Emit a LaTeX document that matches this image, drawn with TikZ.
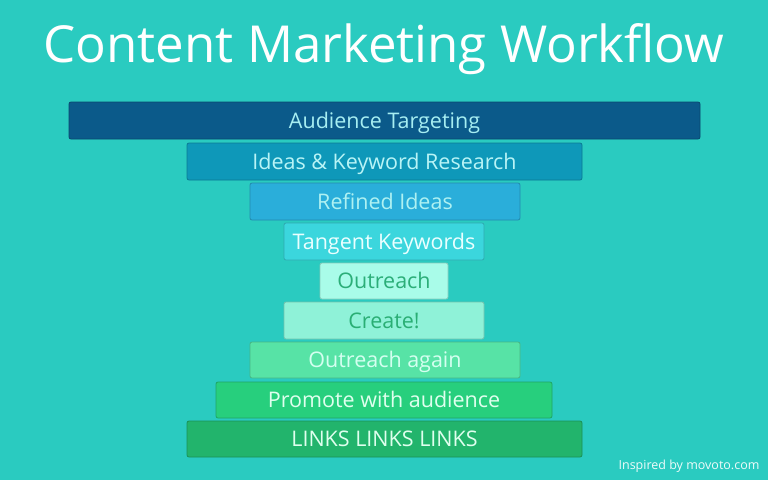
\documentclass[tikz,border=0pt]{standalone}
\usepackage{fontspec}
\setmainfont{Open Sans}
\definecolor{bg}{HTML}{2ACBC0}
\definecolor{c1}{HTML}{0B5A8A}\definecolor{t1}{HTML}{A6EEF2}
\definecolor{c2}{HTML}{0E98B9}\definecolor{t2}{HTML}{B8F4F6}
\definecolor{c3}{HTML}{2AAEDA}\definecolor{t3}{HTML}{AEF1F2}
\definecolor{c4}{HTML}{3BD6DD}\definecolor{t4}{HTML}{EAFFFF}
\definecolor{c5}{HTML}{A9FCE9}\definecolor{t5}{HTML}{2BAE78}
\definecolor{c6}{HTML}{8FF2D8}\definecolor{t6}{HTML}{2AAE74}
\definecolor{c7}{HTML}{57E3A6}\definecolor{t7}{HTML}{D4FFF0}
\definecolor{c8}{HTML}{27CF7D}\definecolor{t8}{HTML}{DFFFEE}
\definecolor{c9}{HTML}{22B46C}\definecolor{t9}{HTML}{DFFFEE}
\tikzset{
  layer/.style={draw=#1!80!black, fill=#1, rounded corners=2pt, line width=0.8pt},
  ltext/.style={font=\fontsize{21.5}{24}\selectfont, text=#1, anchor=base, inner sep=0pt},
}
\begin{document}
\begin{tikzpicture}[x=1pt,y=-1pt]
\fill[bg] (0,0) rectangle (768,480);
\useasboundingbox (0,0) rectangle (768,480);
\node[text=white, font=\fontsize{51}{55}\selectfont, anchor=base, inner sep=0pt] (title) at (384,62) {Content Marketing Workflow};
\draw[layer=c1] (69,102) rectangle (700,139);
\node[ltext=t1] (l1) at (384.5,128) {Audience Targeting};
\draw[layer=c2] (187,143) rectangle (582,180);
\node[ltext=t2] (l2) at (384.5,169) {Ideas \& Keyword Research};
\draw[layer=c3] (250,183) rectangle (520,220);
\node[ltext=t3] (l3) at (385,209) {Refined Ideas};
\draw[layer=c4] (284,223) rectangle (484,260);
\node[ltext=t4] (l4) at (384,249) {Tangent Keywords};
\draw[layer=c5] (320,263) rectangle (448,299);
\node[ltext=t5] (l5) at (384,288.5) {Outreach};
\draw[layer=c6] (284,302) rectangle (484,339);
\node[ltext=t6] (l6) at (384,328) {Create!};
\draw[layer=c7] (250,342) rectangle (520,378);
\node[ltext=t7] (l7) at (385,367.5) {Outreach again};
\draw[layer=c8] (216,382) rectangle (552,418);
\node[ltext=t8] (l8) at (384,407.5) {Promote with audience};
\draw[layer=c9] (187,421) rectangle (582,457);
\node[ltext=t9] (l9) at (384.5,446.5) {LINKS LINKS LINKS};
\node[text=white!92!bg, font=\fontsize{12.5}{14}\selectfont, anchor=base, inner sep=0pt] (credit) at (689,469) {Inspired by movoto.com};
\end{tikzpicture}
\end{document}
